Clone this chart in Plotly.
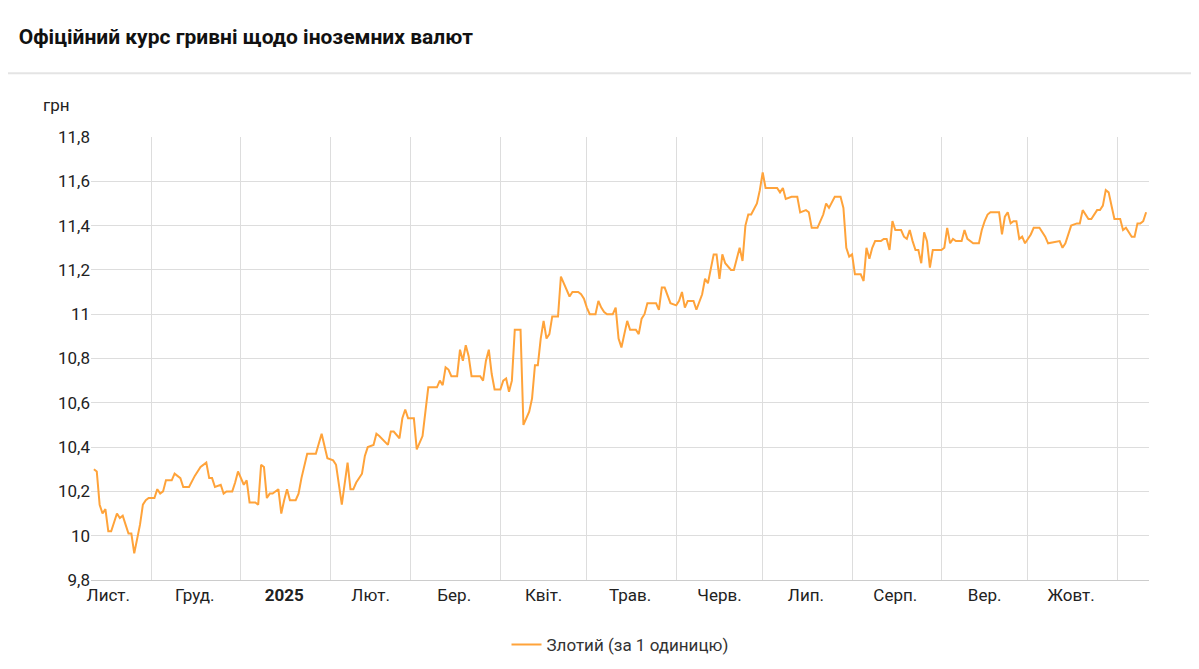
import plotly.graph_objects as go

dates_nov24 = ["2024-11-%02d" % d for d in [11,12,13,14,15,16,17,19,20,21,22,23,24,25,27,28,29,30]]
vals_nov24 = [10.30,10.29,10.14,10.10,10.12,10.02,10.02,10.10,10.08,10.09,10.05,10.01,10.01,9.92,10.05,10.14,10.16,10.17]
dates_dec24 = ["2024-12-%02d" % d for d in [2,3,4,5,6,8,9,10,11,12,14,16,18,20,21,22,23,25,26,27,29,30,31]]
vals_dec24 = [10.17,10.21,10.19,10.20,10.25,10.25,10.28,10.27,10.26,10.22,10.22,10.27,10.31,10.33,10.26,10.26,10.22,10.23,10.19,10.20,10.20,10.24,10.29]
dates_jan25 = ["2025-01-%02d" % d for d in [2,3,4,6,7,8,9,10,11,12,14,15,16,17,18,20,21,22,24,27,29,31]]
vals_jan25 = [10.23,10.25,10.15,10.15,10.14,10.32,10.31,10.17,10.19,10.19,10.21,10.10,10.16,10.21,10.16,10.16,10.19,10.26,10.37,10.37,10.46,10.35]
dates_feb25 = ["2025-02-%02d" % d for d in [2,3,5,6,7,8,9,10,12,13,14,16,17,18,21,22,23,25,26,27,28]]
vals_feb25 = [10.34,10.32,10.14,10.24,10.33,10.21,10.21,10.24,10.28,10.36,10.40,10.41,10.46,10.45,10.41,10.47,10.47,10.44,10.53,10.57,10.53]
dates_mar25 = ["2025-03-%02d" % d for d in [2,3,5,7,10,11,12,13,14,15,17,18,19,20,21,22,25,26,27,28,29,30]]
vals_mar25 = [10.53,10.39,10.45,10.67,10.67,10.70,10.68,10.76,10.75,10.72,10.72,10.84,10.79,10.86,10.81,10.72,10.72,10.70,10.79,10.84,10.73,10.66]
dates_apr25 = ["2025-04-%02d" % d for d in [1,2,3,4,5,6,8,9,11,12,13,14,15,16,17,18,19,21,22,23,25,26,28,29,30]]
vals_apr25 = [10.66,10.70,10.71,10.65,10.70,10.93,10.93,10.50,10.56,10.62,10.77,10.77,10.89,10.97,10.89,10.91,10.99,10.99,11.17,11.14,11.08,11.10,11.10,11.09,11.07]
dates_may25 = ["2025-05-%02d" % d for d in [1,2,4,5,6,7,8,10,11,12,13,15,16,18,19,20,21,22,25,26,27,28,30]]
vals_may25 = [11.03,11.00,11.00,11.06,11.03,11.01,11.00,11.00,11.03,10.89,10.85,10.97,10.93,10.93,10.91,10.98,11.00,11.05,11.05,11.02,11.12,11.12,11.05]
dates_jun25 = ["2025-06-%02d" % d for d in [1,2,3,4,5,7,8,10,11,12,14,15,16,17,18,20,21,23,24,25,26,27,29,30]]
vals_jun25 = [11.04,11.06,11.10,11.03,11.06,11.06,11.02,11.09,11.16,11.14,11.27,11.27,11.16,11.27,11.23,11.20,11.20,11.30,11.24,11.40,11.45,11.45,11.50,11.56]
dates_jul25 = ["2025-07-%02d" % d for d in [1,2,4,6,7,8,9,11,13,14,16,17,18,20,22,23,24,26,28,29,30,31]]
vals_jul25 = [11.64,11.57,11.57,11.57,11.55,11.57,11.52,11.53,11.53,11.46,11.47,11.46,11.39,11.39,11.45,11.50,11.48,11.53,11.53,11.48,11.30,11.26]
dates_aug25 = ["2025-08-%02d" % d for d in [1,2,4,5,6,7,8,9,11,12,13,14,15,16,18,19,20,21,22,23,24,25,26,27,28,29]]
vals_aug25 = [11.27,11.18,11.18,11.15,11.30,11.25,11.30,11.33,11.33,11.34,11.34,11.29,11.42,11.38,11.38,11.35,11.34,11.38,11.33,11.29,11.29,11.23,11.37,11.33,11.21,11.29]
dates_sep25 = ["2025-09-%02d" % d for d in [1,2,3,4,5,6,8,9,10,12,14,15,16,17,18,21,22,23,24,25,26,27,28,29,30]]
vals_sep25 = [11.29,11.30,11.39,11.32,11.34,11.33,11.33,11.38,11.34,11.32,11.32,11.38,11.42,11.45,11.46,11.46,11.36,11.44,11.46,11.41,11.42,11.42,11.34,11.35,11.32]
dates_oct25 = ["2025-10-%02d" % d for d in [2,3,5,7,8,12,13,14,16,18,19,20,21,22,23,25,26,27,28,29,30,31]]
vals_oct25 = [11.36,11.39,11.39,11.35,11.32,11.33,11.30,11.32,11.40,11.41,11.41,11.47,11.45,11.43,11.43,11.47,11.47,11.49,11.56,11.55,11.49,11.43]
dates_nov25 = ["2025-11-%02d" % d for d in [2,3,4,5,6,7,8,9,10,11]]
vals_nov25 = [11.43,11.38,11.39,11.37,11.35,11.35,11.41,11.41,11.42,11.46]

dates = dates_nov24+dates_dec24+dates_jan25+dates_feb25+dates_mar25+dates_apr25+dates_may25+dates_jun25+dates_jul25+dates_aug25+dates_sep25+dates_oct25+dates_nov25
vals = vals_nov24+vals_dec24+vals_jan25+vals_feb25+vals_mar25+vals_apr25+vals_may25+vals_jun25+vals_jul25+vals_aug25+vals_sep25+vals_oct25+vals_nov25

month_labels = ["Лист.","Груд.","<b>2025</b>","Лют.","Бер.","Квіт.","Трав.","Черв.","Лип.","Серп.","Вер.","Жовт."]
month_mid = ["2024-11-16","2024-12-16","2025-01-16","2025-02-15","2025-03-16","2025-04-16","2025-05-16","2025-06-16","2025-07-16","2025-08-16","2025-09-16","2025-10-16"]
month_starts = ["2024-12-01","2025-01-01","2025-02-01","2025-03-01","2025-04-01","2025-05-01","2025-06-01","2025-07-01","2025-08-01","2025-09-01","2025-10-01","2025-11-01"]
y_ticks = [9.8,10.0,10.2,10.4,10.6,10.8,11.0,11.2,11.4,11.6,11.8]
y_labels = ["9,8","10","10,2","10,4","10,6","10,8","11","11,2","11,4","11,6","11,8"]
series_name = "Злотий (за 1 одиницю)"

fig = go.Figure(go.Scatter(x=dates, y=vals, mode="lines", name=series_name,
                           line=dict(color="#ffa33a", width=2)))
fig.update_layout(
    width=1199, height=669, plot_bgcolor="white", paper_bgcolor="white",
    margin=dict(l=83, r=58, t=129, b=97, autoexpand=False),
    font=dict(family="Roboto", size=17, color="#222"),
    showlegend=True,
    legend=dict(orientation="h", x=0.5, xanchor="center", yref="container", y=0.048, yanchor="middle",
                font=dict(size=17, color="#333")),
    title=dict(text="<b>Офіційний курс гривні щодо іноземних валют</b>", x=0.009, xref="container",
               y=0.957, yref="container", xanchor="left", yanchor="middle",
               font=dict(size=21, color="#111")),
)
fig.update_xaxes(range=["2024-11-10", "2025-11-12"], tickmode="array", tickvals=month_mid, ticktext=month_labels,
                 showgrid=False, ticks="", showline=True, linecolor="#ccc",
                 minor=dict(tickmode="array", tickvals=month_starts, showgrid=True, gridcolor="#ddd", ticks=""))
fig.update_yaxes(range=[9.8, 11.8], tickmode="array", tickvals=y_ticks, ticktext=y_labels,
                 gridcolor="#ddd", zeroline=False, ticks="")
fig.add_shape(type="line", xref="paper", yref="paper", x0=-0.1, x1=1.1, y0=1.144, y1=1.144,
              line=dict(color="#e4e4e4", width=2))
fig.add_annotation(text="грн", xref="paper", yref="paper", x=-0.047, y=1.045, xanchor="left", yanchor="bottom",
                   showarrow=False, font=dict(size=17, color="#222"))
fig.write_html("out.html")
